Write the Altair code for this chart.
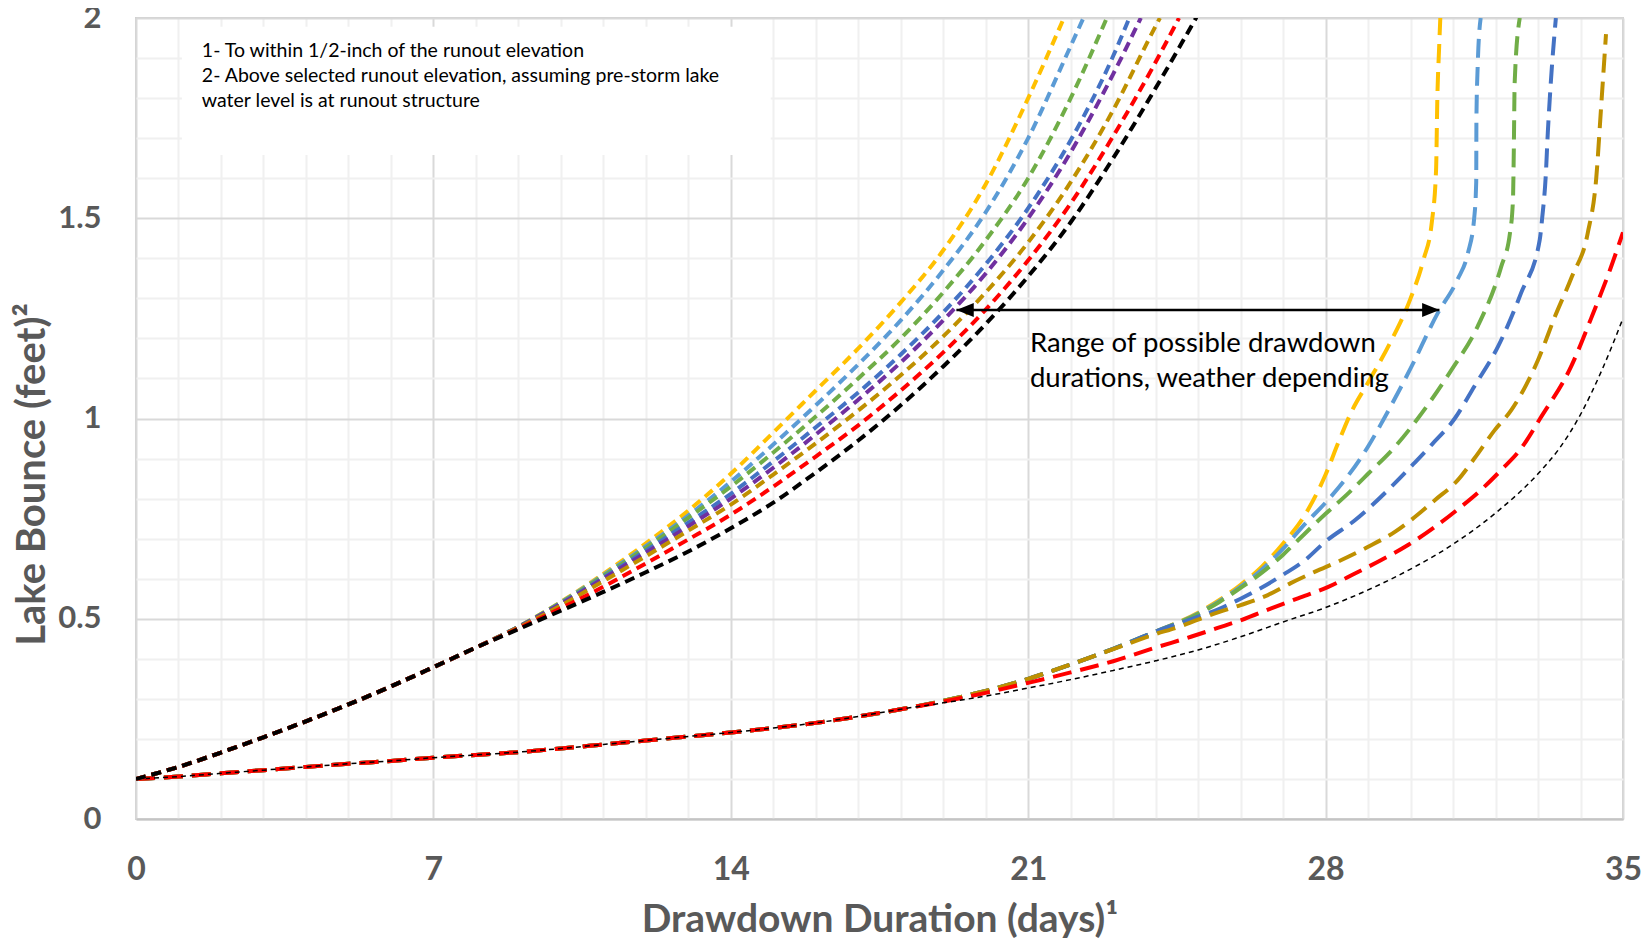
import altair as alt
import pandas as pd

# ---------------- axis ticks ----------------
DAY_TICKS = list(range(0, 36))
BOUNCE_TICKS = [round(0.1 * i, 1) for i in range(21)]

# ---------------- fast drawdown family (upper curves) ----------------
FAST_BASE_DAYS = [0, 1, 2, 3, 4, 5, 6, 7, 8]
FAST_BASE_FT = [0.100, 0.130, 0.166, 0.204, 0.244, 0.286, 0.331, 0.379, 0.428]

FAST_YELLOW_DAYS = [9, 10, 11, 12, 13, 14, 15, 16, 17, 18, 19, 20, 21, 21.84]
FAST_YELLOW_FT = [0.48, 0.542, 0.612, 0.688, 0.77, 0.862, 0.965, 1.07, 1.175, 1.29, 1.42, 1.585, 1.80, 2.0]
FAST_LTBLUE_DAYS = [9, 10, 11, 12, 13, 14, 15, 16, 17, 18, 19, 20, 21, 22, 22.3]
FAST_LTBLUE_FT = [0.48, 0.541, 0.609, 0.681, 0.758, 0.842, 0.935, 1.033, 1.135, 1.245, 1.37, 1.515, 1.70, 1.93, 2.0]
FAST_GREEN_DAYS = [9, 10, 11, 12, 13, 14, 15, 16, 17, 18, 19, 20, 21, 22, 22.85]
FAST_GREEN_FT = [0.48, 0.54, 0.607, 0.677, 0.752, 0.83, 0.915, 1.005, 1.10, 1.20, 1.315, 1.445, 1.60, 1.80, 2.0]
FAST_BLUE_DAYS = [9, 10, 11, 12, 13, 14, 15, 16, 17, 18, 19, 20, 21, 22, 23, 23.38]
FAST_BLUE_FT = [0.479, 0.538, 0.603, 0.67, 0.74, 0.812, 0.893, 0.978, 1.065, 1.16, 1.265, 1.385, 1.525, 1.695, 1.905, 2.0]
FAST_PURPLE_DAYS = [9, 10, 11, 12, 13, 14, 15, 16, 17, 18, 19, 20, 21, 22, 23, 23.65]
FAST_PURPLE_FT = [0.479, 0.537, 0.60, 0.665, 0.731, 0.80, 0.877, 0.96, 1.047, 1.14, 1.245, 1.362, 1.50, 1.665, 1.86, 2.0]
FAST_GOLD_DAYS = [9, 10, 11, 12, 13, 14, 15, 16, 17, 18, 19, 20, 21, 22, 23, 24, 24.1]
FAST_GOLD_FT = [0.478, 0.533, 0.594, 0.656, 0.72, 0.785, 0.86, 0.938, 1.02, 1.108, 1.205, 1.315, 1.44, 1.59, 1.77, 1.98, 2.0]
FAST_RED_DAYS = [9, 10, 11, 12, 13, 14, 15, 16, 17, 18, 19, 20, 21, 22, 23, 24, 24.55]
FAST_RED_FT = [0.476, 0.526, 0.58, 0.638, 0.698, 0.76, 0.83, 0.905, 0.983, 1.07, 1.165, 1.272, 1.395, 1.537, 1.705, 1.89, 2.0]
FAST_BLACK_DAYS = [9, 10, 11, 12, 13, 14, 15, 16, 17, 18, 19, 20, 21, 22, 23, 24, 24.95]
FAST_BLACK_FT = [0.474, 0.52, 0.567, 0.616, 0.668, 0.726, 0.79, 0.865, 0.945, 1.033, 1.13, 1.236, 1.355, 1.49, 1.65, 1.825, 2.0]

# ---------------- slow drawdown family (lower curves) ----------------
SLOW_BASE_DAYS = list(range(0, 19))
SLOW_BASE_FT = [0.100, 0.106, 0.114, 0.122, 0.130, 0.138, 0.145, 0.153, 0.160, 0.167,
                0.176, 0.186, 0.196, 0.206, 0.216, 0.227, 0.240, 0.256, 0.274]

SLOW_YELLOW_DAYS = [19, 20, 21, 22, 23, 24, 25, 25.5, 26, 26.5, 27, 27.5, 28, 28.3, 28.6, 29, 29.5,
                    30, 30.3, 30.5, 30.6, 30.63, 30.67, 30.7]
SLOW_YELLOW_FT = [0.295, 0.32, 0.35, 0.386, 0.425, 0.468, 0.515, 0.547, 0.585, 0.63, 0.688, 0.757, 0.86,
                  0.94, 1.015, 1.09, 1.185, 1.30, 1.395, 1.49, 1.62, 1.80, 1.92, 2.0]
SLOW_LTBLUE_DAYS = [19, 20, 21, 22, 23, 24, 25, 25.5, 26, 26.5, 27, 27.5, 28, 28.5, 29, 29.35, 30,
                    30.64, 31.1, 31.35, 31.5, 31.545, 31.55, 31.58, 31.65]
SLOW_LTBLUE_FT = [0.295, 0.32, 0.35, 0.386, 0.425, 0.468, 0.513, 0.544, 0.58, 0.623, 0.675, 0.735, 0.79,
                  0.853, 0.93, 0.995, 1.125, 1.263, 1.346, 1.413, 1.503, 1.59, 1.75, 1.88, 2.0]
SLOW_GREEN_DAYS = [19, 20, 21, 22, 23, 24, 25, 25.5, 26, 26.5, 27, 27.35, 28, 28.5, 29, 29.63, 30.17,
                   30.96, 31.58, 32.13, 32.34, 32.41, 32.43, 32.45, 32.57]
SLOW_GREEN_FT = [0.295, 0.32, 0.35, 0.386, 0.425, 0.468, 0.512, 0.542, 0.577, 0.615, 0.66, 0.696, 0.762,
                 0.81, 0.862, 0.929, 1.0, 1.121, 1.23, 1.378, 1.463, 1.546, 1.67, 1.838, 2.0]
SLOW_BLUE_DAYS = [19, 20, 21, 22, 23, 24, 25, 25.5, 26, 26.5, 27, 27.5, 28, 28.69, 29.55, 30.1, 30.5,
                  31.04, 31.5, 32.06, 32.6, 33.04, 33.1, 33.18, 33.23, 33.3, 33.42]
SLOW_BLUE_FT = [0.295, 0.32, 0.35, 0.386, 0.425, 0.468, 0.505, 0.525, 0.55, 0.578, 0.61, 0.645, 0.693,
                0.746, 0.83, 0.89, 0.935, 1.0, 1.08, 1.18, 1.313, 1.446, 1.503, 1.603, 1.713, 1.838, 2.0]
SLOW_GOLD_DAYS = [19, 20, 21, 22, 23, 24, 24.5, 25, 25.5, 26, 26.64, 27.18, 27.74, 28.36, 28.99, 29.63,
                  30.1, 30.57, 31.11, 31.5, 31.98, 32.37, 33.0, 33.4, 33.8, 34.17, 34.37, 34.48, 34.6]
SLOW_GOLD_FT = [0.295, 0.32, 0.35, 0.386, 0.424, 0.462, 0.478, 0.498, 0.517, 0.534, 0.559, 0.589, 0.617,
                0.646, 0.679, 0.717, 0.754, 0.796, 0.846, 0.9, 0.971, 1.021, 1.146, 1.255, 1.355, 1.463,
                1.6, 1.77, 1.96]
SLOW_RED_DAYS = [19, 20, 21, 22, 23, 24, 24.83, 25.46, 26.1, 26.72, 27.35, 28.05, 28.69, 29.3, 29.94,
                 30.57, 31.18, 31.65, 32.13, 32.6, 33.05, 33.78, 34.25, 34.72, 35]
SLOW_RED_FT = [0.293, 0.315, 0.34, 0.366, 0.394, 0.428, 0.455, 0.477, 0.5, 0.526, 0.551, 0.579, 0.613,
               0.646, 0.684, 0.729, 0.779, 0.821, 0.871, 0.925, 1.0, 1.13, 1.25, 1.379, 1.465]
SLOW_BLACK_DAYS = [19, 20, 21, 22, 23, 24, 25, 26, 27, 28, 29, 30, 31, 32, 33, 33.5, 34, 34.5, 35]
SLOW_BLACK_FT = [0.29, 0.307, 0.327, 0.348, 0.371, 0.395, 0.422, 0.455, 0.492, 0.528, 0.572, 0.624,
                 0.686, 0.764, 0.862, 0.925, 1.01, 1.12, 1.25]

# ---------------- annotations ----------------
NOTE_LINES = ["1- To within 1/2-inch of the runout elevation",
              "2- Above selected runout elevation, assuming pre-storm lake",
              "water level is at runout structure"]
NOTE_POS = (1.55, 1.902)
NOTE_BOX = (1.08, 14.94, 1.658, 1.978)
RANGE_LINES = ["Range of possible drawdown", "durations, weather depending"]
RANGE_POS = (21.04, 1.166)
ARROW = (19.31, 30.68, 1.271)

YELLOW, LTBLUE, GREEN, BLUE = "#FFC000", "#5B9BD5", "#70AD47", "#4472C4"
PURPLE, GOLD, RED, BLACK = "#7030A0", "#BF9000", "#FF0000", "#000000"
GREY = "#595959"

x_enc = alt.X(
    "day:Q",
    scale=alt.Scale(domain=[0, 35], nice=False, zero=False),
    title="Drawdown Duration (days)¹",
    axis=alt.Axis(
        values=DAY_TICKS,
        labelExpr="datum.value % 7 === 0 ? datum.label : ''",
        grid=True,
        gridColor={"condition": {"test": "datum.value % 7 === 0", "value": "#D9D9D9"}, "value": "#F0F0F0"},
        gridWidth=2,
        ticks=False, tickSize=0,
        domainColor="#C4C4C4", domainWidth=2,
        labelFont="Lato", labelFontSize=32, labelFontWeight="bold", labelColor=GREY,
        labelPadding=35, labelFlush=False, labelOverlap=False,
        titleFont="Lato", titleFontSize=39, titleFontWeight="bold", titleColor=GREY,
        titleY=112, titleBaseline="alphabetic",
    ),
)
y_enc = alt.Y(
    "bounce:Q",
    scale=alt.Scale(domain=[0, 2], nice=False, zero=True),
    title="Lake Bounce (feet)²",
    axis=alt.Axis(
        values=BOUNCE_TICKS,
        format="~g",
        labelExpr="abs(datum.value * 2 - round(datum.value * 2)) < 0.001 ? datum.label : ''",
        grid=True,
        gridColor={"condition": {"test": "abs(datum.value * 2 - round(datum.value * 2)) < 0.001",
                                 "value": "#D9D9D9"}, "value": "#F0F0F0"},
        gridWidth=2,
        domain=False, ticks=False, tickSize=0,
        labelFont="Lato", labelFontSize=31, labelFontWeight="bold", labelColor=GREY,
        labelPadding=35, labelFlush=False, labelOverlap=False,
        titleFont="Lato", titleFontSize=40, titleFontWeight="bold", titleColor=GREY,
        titleAngle=270, titleX=-92, titleY=456, titleBaseline="alphabetic",
    ),
)


def curve(base_days, base_ft, days, ft, color, dash, width):
    df = pd.DataFrame({"day": base_days + days, "bounce": base_ft + ft})
    return alt.Chart(df).mark_line(
        color=color, strokeDash=dash, strokeWidth=width, interpolate="monotone",
        clip=True, strokeCap="butt",
    ).encode(x=x_enc, y=y_enc)


SLOW_DASH = [19, 9]
FAST_DASH = [10, 6]

box_df = pd.DataFrame({"day": [NOTE_BOX[0]], "day2": [NOTE_BOX[1]],
                       "bounce": [NOTE_BOX[2]], "bounce2": [NOTE_BOX[3]]})
box = alt.Chart(box_df).mark_rect(color="white").encode(
    x=x_enc, x2="day2:Q", y=y_enc, y2="bounce2:Q")

layers = [box]
slow = [
    (SLOW_YELLOW_DAYS, SLOW_YELLOW_FT, YELLOW, SLOW_DASH, 4),
    (SLOW_LTBLUE_DAYS, SLOW_LTBLUE_FT, LTBLUE, SLOW_DASH, 4),
    (SLOW_GREEN_DAYS, SLOW_GREEN_FT, GREEN, SLOW_DASH, 4),
    (SLOW_BLUE_DAYS, SLOW_BLUE_FT, BLUE, SLOW_DASH, 4),
    (SLOW_GOLD_DAYS, SLOW_GOLD_FT, GOLD, SLOW_DASH, 4),
    (SLOW_RED_DAYS, SLOW_RED_FT, RED, SLOW_DASH, 4),
    (SLOW_BLACK_DAYS, SLOW_BLACK_FT, BLACK, [5, 4], 1.5),
]
for d, f, c, dash, w in slow:
    layers.append(curve(SLOW_BASE_DAYS, SLOW_BASE_FT, d, f, c, dash, w))

fast = [
    (FAST_YELLOW_DAYS, FAST_YELLOW_FT, YELLOW),
    (FAST_LTBLUE_DAYS, FAST_LTBLUE_FT, LTBLUE),
    (FAST_GREEN_DAYS, FAST_GREEN_FT, GREEN),
    (FAST_BLUE_DAYS, FAST_BLUE_FT, BLUE),
    (FAST_PURPLE_DAYS, FAST_PURPLE_FT, PURPLE),
    (FAST_GOLD_DAYS, FAST_GOLD_FT, GOLD),
    (FAST_RED_DAYS, FAST_RED_FT, RED),
    (FAST_BLACK_DAYS, FAST_BLACK_FT, BLACK),
]
for d, f, c in fast:
    layers.append(curve(FAST_BASE_DAYS, FAST_BASE_FT, d, f, c, FAST_DASH, 4))

arrow_line = alt.Chart().mark_rule(color="black", strokeWidth=2.5).encode(
    x=alt.datum(ARROW[0]), x2=alt.datum(ARROW[1]), y=alt.datum(ARROW[2]))
head_left = alt.Chart().mark_point(
    shape="M0,0 L2,-0.8 L2,0.8 Z", size=300, filled=True, color="black", opacity=1
).encode(x=alt.datum(ARROW[0]), y=alt.datum(ARROW[2]))
head_right = alt.Chart().mark_point(
    shape="M0,0 L-2,-0.8 L-2,0.8 Z", size=300, filled=True, color="black", opacity=1
).encode(x=alt.datum(ARROW[1]), y=alt.datum(ARROW[2]))

note = alt.Chart().mark_text(
    text=NOTE_LINES, align="left", baseline="alphabetic", font="Lato", fontSize=19.5,
    lineHeight=25, color="black"
).encode(x=alt.datum(NOTE_POS[0]), y=alt.datum(NOTE_POS[1]))
range_text = alt.Chart().mark_text(
    text=RANGE_LINES, align="left", baseline="alphabetic", font="Lato", fontSize=27.5,
    lineHeight=35, color="black"
).encode(x=alt.datum(RANGE_POS[0]), y=alt.datum(RANGE_POS[1]))

layers += [arrow_line, head_left, head_right, note, range_text]

chart = alt.layer(*layers).properties(
    width=1487, height=801,
    autosize=alt.AutoSizeParams(type="none"),
    padding={"left": 128, "top": 10, "right": 18, "bottom": 121},
    background="white",
).configure_view(stroke="#D0D0D0", strokeWidth=2)

chart.save("out.html", embed_options={"renderer": "svg", "actions": False})
